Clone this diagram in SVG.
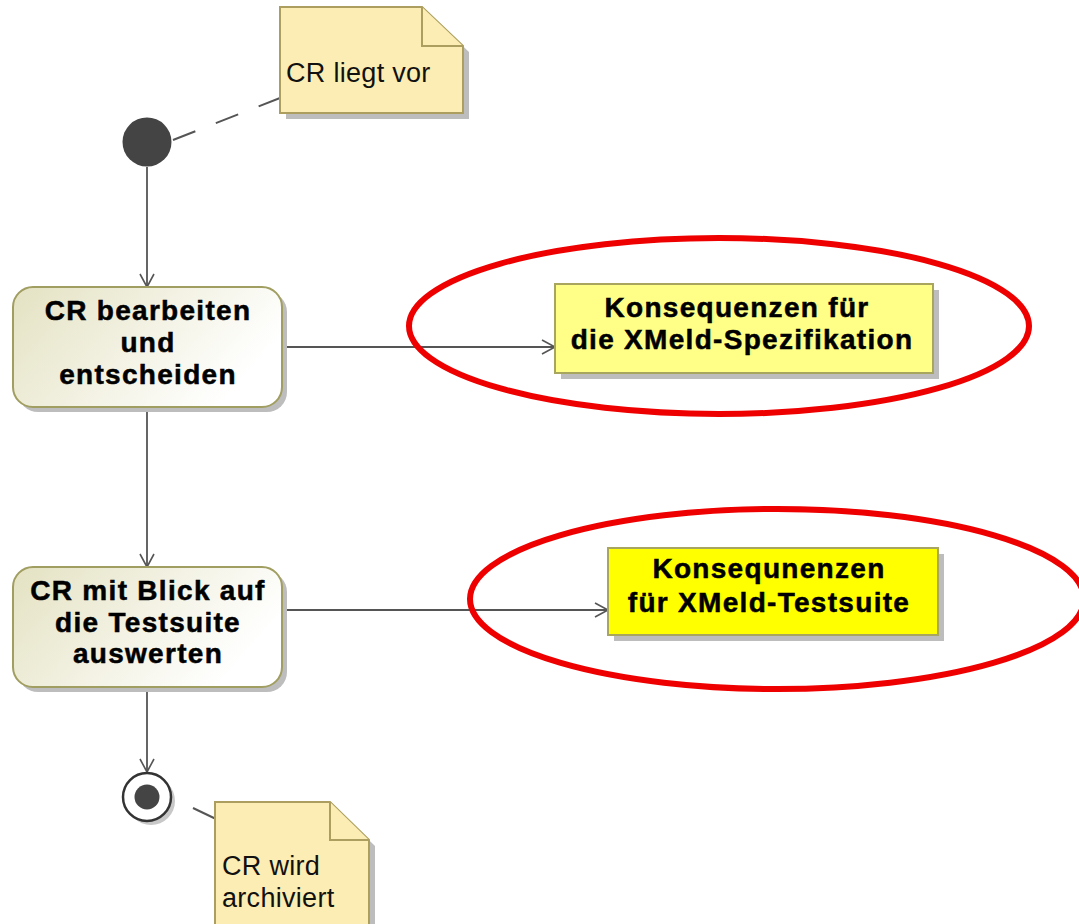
<svg xmlns="http://www.w3.org/2000/svg" width="1079" height="924" viewBox="0 0 1079 924">
<defs>
<linearGradient id="actGrad" x1="0" y1="0" x2="1" y2="0.4">
<stop offset="0" stop-color="#e4e2c2"/>
<stop offset="1" stop-color="#ffffff"/>
</linearGradient>
<marker id="open" markerWidth="20" markerHeight="20" refX="14" refY="8" orient="auto" markerUnits="userSpaceOnUse">
<path d="M1,1 L14,8 L1,15" fill="none" stroke="#555" stroke-width="1.6"/>
</marker>
</defs>
<style>
.b{font-family:"Liberation Sans",Arial,sans-serif;font-weight:bold;font-size:28px;letter-spacing:1.3px;fill:#000;stroke:#000;stroke-width:0.5px;text-anchor:middle}
.r{font-family:"Liberation Sans",Arial,sans-serif;font-size:27px;letter-spacing:0.3px;fill:#111}
.act{fill:url(#actGrad);stroke:#a19e62;stroke-width:2}
.shadow{fill:#bdbdbd}
.note{fill:#fbedb3;stroke:#ab9e5e;stroke-width:2}
.fold{fill:#fbedb3;stroke:#ab9e5e;stroke-width:2}
.edge{fill:none;stroke:#555;stroke-width:1.8}
.oval{fill:none;stroke:#ee0000;stroke-width:6}
</style>
<rect width="1079" height="924" fill="#ffffff"/>

<g id="connectors">
<line class="edge" x1="147" y1="167" x2="147" y2="287" marker-end="url(#open)"/>
<line class="edge" x1="282" y1="347" x2="555" y2="347" marker-end="url(#open)"/>
<line class="edge" x1="147" y1="407" x2="147" y2="567" marker-end="url(#open)"/>
<line class="edge" x1="282" y1="610" x2="608" y2="610" marker-end="url(#open)"/>
<line class="edge" x1="147" y1="687" x2="147" y2="772" marker-end="url(#open)"/>
<line x1="173" y1="140" x2="280" y2="98" stroke="#555" stroke-width="2" stroke-dasharray="24,22"/>
<line x1="193" y1="808" x2="216" y2="819" stroke="#555" stroke-width="2"/>
</g>

<g id="note1">
<path class="shadow" d="M286,13 H428 L469,52 V119 H286 Z"/>
<path class="note" d="M280,7 H422 L463,46 V113 H280 Z"/>
<path class="fold" d="M422,7 V46 H463"/>
<text class="r" x="286" y="82">CR liegt vor</text>
</g>

<g id="start">
<circle cx="147" cy="142" r="24.5" fill="#444444"/>
</g>

<g id="action1">
<rect x="18" y="292" width="269" height="120" rx="20" class="shadow"/>
<rect x="13" y="287" width="269" height="120" rx="20" class="act"/>
<text class="b" x="148" y="320">CR bearbeiten</text>
<text class="b" x="148" y="352">und</text>
<text class="b" x="148" y="384">entscheiden</text>
</g>

<g id="spec">
<rect x="561" y="290" width="378" height="89" class="shadow"/>
<rect x="555" y="284" width="378" height="89" fill="#ffff88" stroke="#a8a65e" stroke-width="2"/>
<text class="b" x="737" y="317">Konsequenzen für</text>
<text class="b" x="742" y="349">die XMeld-Spezifikation</text>
</g>

<g id="action2">
<rect x="18" y="572" width="269" height="120" rx="20" class="shadow"/>
<rect x="13" y="567" width="269" height="120" rx="20" class="act"/>
<text class="b" x="148" y="600">CR mit Blick auf</text>
<text class="b" x="148" y="632">die Testsuite</text>
<text class="b" x="148" y="663">auswerten</text>
</g>

<g id="testsuite">
<rect x="614" y="554" width="330" height="87" class="shadow"/>
<rect x="608" y="548" width="330" height="87" fill="#ffff00" stroke="#a8a65e" stroke-width="2"/>
<text class="b" x="769" y="578">Konsequnenzen</text>
<text class="b" x="769" y="612">für XMeld-Testsuite</text>
</g>

<g id="final">
<circle cx="151" cy="801" r="24" fill="#c8c8c8"/>
<circle cx="147" cy="797" r="24" fill="#ffffff" stroke="#333" stroke-width="2.5"/>
<circle cx="147" cy="797" r="12.5" fill="#444444"/>
</g>

<g id="note2">
<path class="shadow" d="M221,808 H336 L375,846 V930 H221 Z"/>
<path class="note" d="M215,802 H330 L369,840 V926 H215 Z"/>
<path class="fold" d="M330,802 V840 H369"/>
<text class="r" x="222" y="875">CR wird</text>
<text class="r" x="222" y="907">archiviert</text>
</g>

<g id="highlights">
<ellipse class="oval" cx="719" cy="326" rx="310" ry="88"/>
<ellipse class="oval" cx="777" cy="599" rx="307" ry="90"/>
</g>
</svg>
